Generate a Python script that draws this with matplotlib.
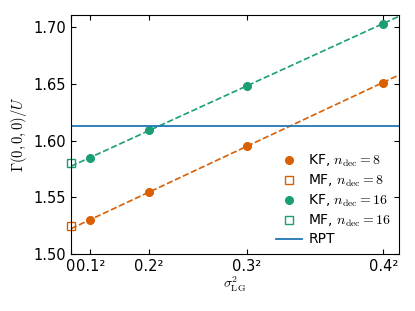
import numpy as np
import matplotlib
matplotlib.use("Agg")
import matplotlib.pyplot as plt

plt.rcParams['mathtext.fontset'] = 'cm'
plt.rcParams['font.size'] = 10

x_kf = [0.1**2, 0.2**2, 0.3**2, 0.4**2]
kf8 = [1.530, 1.555, 1.595, 1.651]
kf16 = [1.585, 1.609, 1.648, 1.703]
x_mf = [0.0]
mf8 = [1.525]
mf16 = [1.580]
rpt = 1.613
xticks = [0, 0.1**2, 0.2**2, 0.3**2, 0.4**2]
xticklabels = ["0", "0.1²", "0.2²", "0.3²", "0.4²"]
yticks = [1.50, 1.55, 1.60, 1.65, 1.70]

c8 = "#d95f02"
c16 = "#1b9e77"
crpt = "#1f77b4"

fig = plt.figure(figsize=(4.15, 3.11), dpi=100)
ax = fig.add_axes([0.171, 0.183, 0.790, 0.769])

xmax = 0.168
xf = np.linspace(0, xmax, 50)
for xs, ys, c in [(x_kf, kf8, c8), (x_kf, kf16, c16)]:
    p = np.polyfit(xs, ys, 1)
    ax.plot(xf, np.polyval(p, xf), "--", color=c, lw=1.2)

ax.plot(x_kf, kf8, "o", color=c8, ms=5.5, label=r"KF, $n_{\rm dec}=8$")
ax.plot(x_mf, mf8, "s", mfc="none", mec=c8, ms=5.5, label=r"MF, $n_{\rm dec}=8$", clip_on=False)
ax.plot(x_kf, kf16, "o", color=c16, ms=5.5, label=r"KF, $n_{\rm dec}=16$")
ax.plot(x_mf, mf16, "s", mfc="none", mec=c16, ms=5.5, label=r"MF, $n_{\rm dec}=16$", clip_on=False)
ax.axhline(rpt, color=crpt, lw=1.3, label="RPT")

ax.set_xlim(0, xmax)
ax.set_ylim(1.50, 1.7106)
ax.set_xticks(xticks)
ax.set_xticklabels(xticklabels)
ax.set_yticks(yticks)
ax.set_yticklabels([f"{v:.2f}" for v in yticks])
ax.tick_params(direction="in", top=True, right=True, labelsize=10.5)
ax.set_xlabel(r"$\sigma^2_{\rm LG}$", fontsize=10, labelpad=1)
ax.set_ylabel(r"$\Gamma(0,0,0)/U$", fontsize=10.5, labelpad=3)
ax.legend(loc="lower right", frameon=False, fontsize=10, handlelength=1.9,
          labelspacing=0.25, borderaxespad=0.15, handletextpad=0.45)

fig.savefig("out.png", dpi=100)
